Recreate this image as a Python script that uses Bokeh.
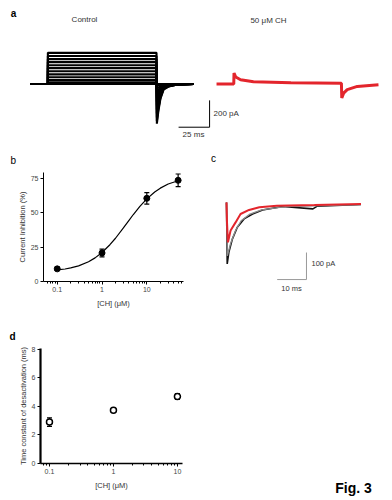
from bokeh.plotting import figure
from bokeh.layouts import column, row
from bokeh.models import Label, Range1d, FixedTicker, Whisker, ColumnDataSource, TeeHead
from bokeh.embed import file_html
from bokeh.resources import INLINE

FONT = "Liberation Sans"

# ---------------- data ----------------
A_LEVELS = [0, 12, 30, 50, 72, 95, 118, 140, 163, 185, 208, 232]
A_TAIL_PEAK = [0, -15, -40, -70, -100, -130, -160, -190, -220, -250, -275, -296]
A_T_ON = 14.0
A_T_OFF = 101.6
A_TAIL_DT = [0.3, 1.5, 3.2, 5.7, 9.7, 16.0, 30.1]
A_TAIL_SHAPE = [1.0, 0.68, 0.37, 0.14, 0.064, 0.02, 0.0]
CH_T = [0, 13.9, 14.1, 15.5, 19.4, 29.8, 60, 100.7, 101.0, 102.5, 105.4, 113.5, 130.6]
CH_I = [0, 0, 82, 52, 32, 17, 9, 5, -105, -68, -42, -18, -5]

B_CONC = [0.1, 1, 10, 50]
B_INHIB = [9.2, 20.8, 60.6, 73.7]
B_ERR = [1.2, 2.8, 4.2, 4.6]
B_FIT_X = [0.1, 0.15, 0.2, 0.3, 0.5, 0.7, 1, 1.5, 2, 3, 4, 5, 7, 10, 15, 20, 30, 50]
B_FIT_Y = [8.4, 9.1, 9.9, 11.4, 14.4, 17.2, 21.1, 26.8, 31.5, 39.0, 44.6, 48.8, 54.7, 60.2, 65.2, 68.0, 71.0, 73.4]

C_BLACK_T = [0, 0.25, 0.8, 2.0, 3.7, 6.0, 8.9, 12.3, 19.2, 29.5, 31.0, 45.9]
C_BLACK_I = [8, -220, -177, -128, -84, -53, -35, -20, -7, -16, -6, 0]
C_GRAY_T = [0, 0.3, 1.4, 3.1, 5.0, 8.0, 12.0, 20.0, 45.9]
C_GRAY_I = [8, -190, -144, -96, -60, -35, -20, -8, 0]
C_RED_T = [0, 0.15, 0.5, 1.4, 3.1, 4.8, 7.7, 11.2, 17.2, 30.0, 45.9]
C_RED_I = [8, -60, -140, -96, -66, -35, -20, -10, -4, -2, 2]

D_CONC = [0.1, 1, 10]
D_TAU = [2.9, 3.72, 4.69]
D_ERR = [0.3, 0.15, 0.2]

LOG_MINOR_B = [0.06, 0.07, 0.08, 0.09, 0.2, 0.3, 0.4, 0.5, 0.6, 0.7, 0.8, 0.9,
               2, 3, 4, 5, 6, 7, 8, 9, 20, 30, 40, 50, 60]
LOG_MINOR_D = [0.08, 0.09, 0.2, 0.3, 0.4, 0.5, 0.6, 0.7, 0.8, 0.9,
               2, 3, 4, 5, 6, 7, 8, 9]

RED = "#e3252c"
TXT = "#333333"


def lab(p, x, y, text, size="8px", align="center", style="normal", color=TXT):
    p.add_layout(Label(x=x, y=y, x_units="screen", y_units="screen", text=text,
                       text_font=FONT, text_font_size=size, text_align=align,
                       text_baseline="middle", text_font_style=style,
                       text_color=color))


def blank(p):
    p.grid.visible = False
    p.outline_line_color = None
    p.min_border_left = 0
    p.min_border_right = 0
    p.min_border_top = 0
    p.min_border_bottom = 0


def letter_title(p, text, offset, style):
    p.title.text = text
    p.title.align = "left"
    p.title.offset = offset
    p.title.standoff = 14
    p.title.text_font = FONT
    p.title.text_font_size = "10px"
    p.title.text_font_style = style
    p.title.text_color = "black"


# ---------------- panel a ----------------
pa = figure(frame_width=392, frame_height=140, x_range=Range1d(-24.2, 291.9),
            y_range=Range1d(-421, 622), output_backend="svg", toolbar_location=None,
            x_axis_location=None, y_axis_location=None, frame_align=False)
blank(pa)
xs, ys = [], []
for lev, pk in zip(A_LEVELS, A_TAIL_PEAK):
    xs.append([0, A_T_ON, A_T_ON, A_T_OFF] + [A_T_OFF + d for d in A_TAIL_DT])
    ys.append([0, 0, lev, lev] + [pk * s for s in A_TAIL_SHAPE])
pa.multi_line(xs, ys, line_color="black", line_width=2.1)
CH_OFFSET = 150.0
pa.line([t + CH_OFFSET for t in CH_T], CH_I, line_color=RED, line_width=3)
sb_x1, sb_y0 = 144.4, -322
pa.line([sb_x1 - 25, sb_x1, sb_x1], [sb_y0, sb_y0, sb_y0 + 200], line_color="black", line_width=1)
lab(pa, 13, 127, "a", size="10px", style="bold", color="black")
lab(pa, 84, 121, "Control")
lab(pa, 268, 120, "50 \u03bcM CH")
lab(pa, 193, 6, "25 ms")
lab(pa, 213, 27, "200 pA", align="left")


# ---------------- panel b ----------------
def style_axes(p, lw=1.0):
    p.grid.visible = False
    p.outline_line_color = None
    for ax in (p.xaxis, p.yaxis):
        ax.axis_line_width = lw
        ax.axis_line_color = "black"
        ax.major_tick_in = 0
        ax.major_tick_out = 3
        ax.minor_tick_in = 0
        ax.minor_tick_out = 2
        ax.major_label_text_font = FONT
        ax.major_label_text_font_size = "7px"
        ax.major_label_text_color = "#444444"
        ax.major_label_standoff = 2
        ax.axis_label_text_font = FONT
        ax.axis_label_text_font_size = "7.5px"
        ax.axis_label_text_font_style = "normal"
        ax.axis_label_text_color = TXT
        ax.axis_label_standoff = 4
    p.yaxis.axis_label_standoff = 1


pb = figure(width=200, height=170, x_axis_type="log",
            x_range=Range1d(0.0494, 65.9), y_range=Range1d(0, 79.4),
            output_backend="svg", toolbar_location=None, frame_align=False,
            min_border_left=43, min_border_right=17, min_border_top=32, min_border_bottom=29)
style_axes(pb)
letter_title(pb, "b", -33, "normal")
pb.xaxis.ticker = FixedTicker(ticks=[0.1, 1, 10], minor_ticks=LOG_MINOR_B)
pb.xaxis.major_label_overrides = {0.1: "0.1", 1: "1", 10: "10"}
pb.yaxis.ticker = FixedTicker(ticks=[0, 25, 50, 75], minor_ticks=[])
pb.xaxis.axis_label = "[CH] (\u03bcM)"
pb.yaxis.axis_label = "Current Inhibition (%)"
pb.line(B_FIT_X, B_FIT_Y, line_color="black", line_width=1.2)
srcb = ColumnDataSource(dict(x=B_CONC, y=B_INHIB,
                             lo=[v - e for v, e in zip(B_INHIB, B_ERR)],
                             hi=[v + e for v, e in zip(B_INHIB, B_ERR)]))
pb.add_layout(Whisker(source=srcb, base="x", lower="lo", upper="hi", line_color="black",
                      line_width=1.2,
                      upper_head=TeeHead(size=5, line_color="black", line_width=1.2),
                      lower_head=TeeHead(size=5, line_color="black", line_width=1.2)))
pb.scatter("x", "y", source=srcb, size=6, marker="circle", fill_color="black", line_color="black")

# ---------------- panel c ----------------
pc = figure(frame_width=192, frame_height=170, x_range=Range1d(-8.87, 56.66), y_range=Range1d(-392, 237),
            output_backend="svg", toolbar_location=None, frame_align=False,
            x_axis_location=None, y_axis_location=None)
blank(pc)
pc.line(C_BLACK_T, C_BLACK_I, line_color="#111111", line_width=1.6)
pc.line(C_GRAY_T, C_GRAY_I, line_color="#8a8a8a", line_width=1.3)
pc.line(C_RED_T, C_RED_I, line_color=RED, line_width=2)
cb_x1, cb_y0 = 27.3, -277.5
pc.line([cb_x1 - 10, cb_x1, cb_x1], [cb_y0, cb_y0, cb_y0 + 100], line_color="#9a9a9a", line_width=1)
lab(pc, 13, 152, "c", size="10px", color="black")
lab(pc, 111, 47, "100 pA", align="left", size="7.5px")
lab(pc, 91, 22, "10 ms", size="7.5px")

# ---------------- panel d ----------------
pd_ = figure(width=200, height=190, x_axis_type="log",
             x_range=Range1d(0.0724, 12.0), y_range=Range1d(0, 8.05),
             output_backend="svg", toolbar_location=None, frame_align=False,
             min_border_left=40, min_border_right=18, min_border_top=38, min_border_bottom=37)
style_axes(pd_, lw=1.5)
letter_title(pd_, "d", -31, "bold")
pd_.yaxis.axis_line_width = 2.2
pd_.xaxis.ticker = FixedTicker(ticks=[0.1, 1, 10], minor_ticks=LOG_MINOR_D)
pd_.xaxis.major_label_overrides = {0.1: "0.1", 1: "1", 10: "10"}
pd_.yaxis.ticker = FixedTicker(ticks=[0, 2, 4, 6, 8], minor_ticks=[])
pd_.xaxis.axis_label = "[CH] (\u03bcM)"
pd_.yaxis.axis_label = "Time constant of desactivation (ms)"
srcd = ColumnDataSource(dict(x=D_CONC, y=D_TAU,
                             lo=[v - e for v, e in zip(D_TAU, D_ERR)],
                             hi=[v + e for v, e in zip(D_TAU, D_ERR)]))
pd_.add_layout(Whisker(source=srcd, base="x", lower="lo", upper="hi", line_color="black",
                       line_width=1.2,
                       upper_head=TeeHead(size=5, line_color="black", line_width=1.2),
                       lower_head=TeeHead(size=5, line_color="black", line_width=1.2)))
pd_.scatter("x", "y", source=srcd, size=6, marker="circle", fill_color="white",
            line_color="black", line_width=1.5)

# figure caption area to the right of panel d
pf = figure(frame_width=192, frame_height=190, x_range=Range1d(0, 1), y_range=Range1d(0, 1),
            output_backend="svg", toolbar_location=None, frame_align=False,
            x_axis_location=None, y_axis_location=None)
blank(pf)
lab(pf, 153, 13, "Fig. 3", size="14px", style="bold", color="black")

layout = column(pa, row(pb, pc), row(pd_, pf))
open("out.html", "w").write(file_html(layout, INLINE))
